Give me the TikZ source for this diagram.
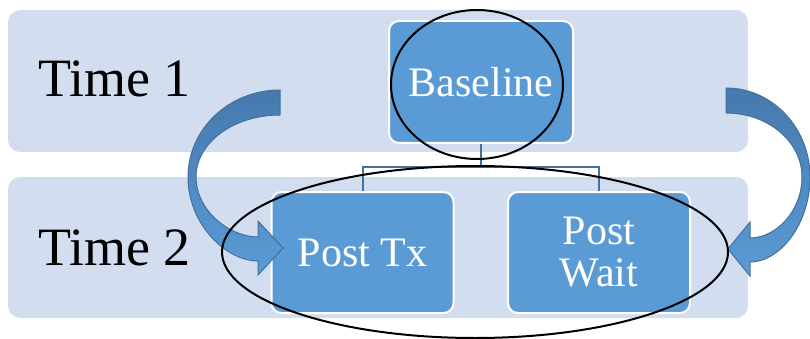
\documentclass[tikz,border=0pt]{standalone}
\usepackage{fontspec}
\usetikzlibrary{shapes.geometric}
\setmainfont{Liberation Serif}
\definecolor{bandfill}{HTML}{D2DDEF}
\definecolor{boxfill}{HTML}{5B9BD5}
\definecolor{connblue}{HTML}{41719C}
\definecolor{arrowdark}{HTML}{4679AE}
\definecolor{arrowlight}{HTML}{5B9BD5}
\tikzset{
  band/.style={fill=bandfill, draw=none, rounded corners=12pt, inner sep=0pt},
  box/.style={fill=boxfill, draw=white, line width=2pt, rounded corners=10pt,
    minimum width=182pt, minimum height=121pt, text=white, align=center,
    font=\fontsize{42}{45}\selectfont, inner sep=0pt},
  timelabel/.style={anchor=base west, inner sep=0pt, font=\fontsize{54}{58}\selectfont},
  conn/.style={draw=connblue, line width=2pt},
  bend arrow/.style={draw=connblue, line width=1pt, line join=miter,
    top color=arrowdark, bottom color=arrowlight},
  ring/.style={draw=black, line width=2pt}
}
\begin{document}
\begin{tikzpicture}[x=1pt, y=-1pt]
  \useasboundingbox (0,0) rectangle (810,339);

  % the two time bands
  \node[band, minimum width=740pt, minimum height=142pt] (band1) at (378,81) {};
  \node[band, minimum width=740pt, minimum height=141pt] (band2) at (378,247.5) {};

  \node[timelabel] (time1) at (38,97) {Time 1};
  \node[timelabel] (time2) at (38,265) {Time 2};

  % measurement boxes
  \node[box, minimum width=184pt, minimum height=122pt] (base) at (481,82) {Baseline};
  \node[box] (ptx) at (362.5,252.5) {Post Tx};
  \node[box] (pwait) at (599,252.5) {Post\\[-3pt]Wait};

  % tree connectors
  \coordinate (hub) at (480,167);
  \draw[conn] (base.south) -- (base.south |- hub) -| (ptx.north);
  \draw[conn] (base.south |- hub) -| (pwait.north);

  % left curved arrow into Post Tx
  \path[bend arrow]
    (280,90) .. controls (229.2,90) and (188,129) .. (188,177)
    .. controls (188,224) and (226,261) .. (258,261)
    -- (258,275) -- (283,248) -- (258,221) -- (258,237)
    .. controls (230,237) and (196,211) .. (196,177)
    .. controls (196,142.8) and (233.6,115) .. (280,115) -- cycle;

  % right curved arrow into Post Wait
  \path[bend arrow]
    (726,88) .. controls (772.4,88) and (810,128) .. (810,177)
    .. controls (810,224) and (780,262) .. (750,262)
    -- (750,276) -- (728,249) -- (750,222) -- (750,238)
    .. controls (776,238) and (802,211) .. (802,177)
    .. controls (802,141.7) and (768,113) .. (726,113) -- cycle;

  % highlighted groups
  \node[ring, ellipse, minimum width=172pt, minimum height=149pt, inner sep=0pt] (ringbase) at (477,84.5) {};
  \node[ring, ellipse, minimum width=506pt, minimum height=172pt, inner sep=0pt] (ringpost) at (475,252) {};
\end{tikzpicture}
\end{document}
